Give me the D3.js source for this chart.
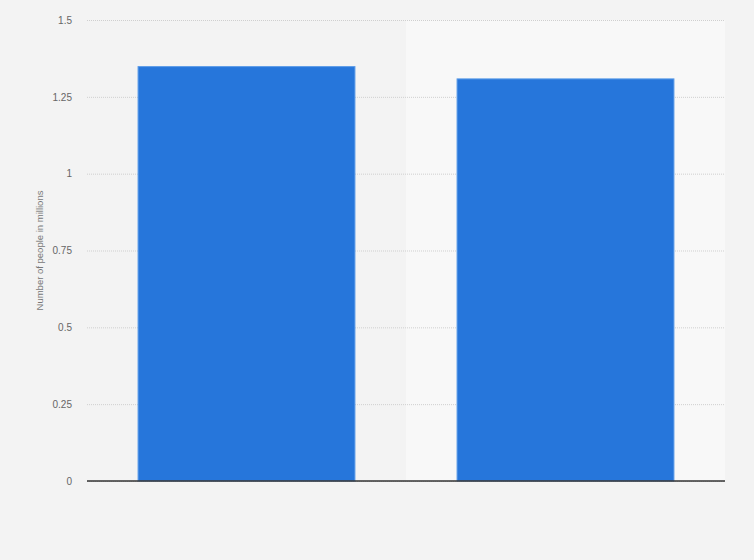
<!DOCTYPE html>
<html>
<head>
<meta charset="utf-8">
<script src="https://cdn.jsdelivr.net/npm/d3@7"></script>
<style>
  body { margin: 0; background: #f3f3f3; }
  svg { display: block; font-family: "Liberation Sans", Arial, sans-serif; }
</style>
</head>
<body>
<div id="chart"></div>
<script>
width = 754;
height = 560;
chart_margins = {left: 87, right: 29, top: 20, bottom: 79};

// data
categories = ["A", "B"];
values = [1.35, 1.31];
y_ticks = [0, 0.25, 0.5, 0.75, 1, 1.25, 1.5];
y_label = "Number of people in millions";

var xScale = d3.scaleBand().domain(categories)
    .range([chart_margins.left, width - chart_margins.right])
    .paddingInner(0.317).paddingOuter(0.1585);
var yScale = d3.scaleLinear().domain([0, 1.5])
    .range([height - chart_margins.bottom, chart_margins.top]);

var plot = d3.select("#chart").append("svg")
    .attr("width", width)
    .attr("height", height);

plot.append("rect")
    .attr("width", width).attr("height", height)
    .attr("fill", "#f3f3f3");

// alternating column bands
plot.selectAll("rect.band")
    .data(categories)
    .enter()
    .append("rect")
    .attr("class", "band")
    .attr("x", d => xScale(d) - xScale.step() * xScale.paddingOuter())
    .attr("y", yScale(1.5))
    .attr("width", xScale.step())
    .attr("height", yScale(0) - yScale(1.5))
    .attr("fill", (d, i) => i % 2 ? "#f8f8f8" : "#f3f3f3");

// gridlines + tick labels
var yAxis = d3.axisLeft(yScale)
    .tickValues(y_ticks)
    .tickSize(-(width - chart_margins.left - chart_margins.right))
    .tickFormat(d => d3.format("")(d));

var gy = plot.append("g")
    .attr("transform", "translate(" + chart_margins.left + ",0)")
    .call(yAxis);
gy.select(".domain").remove();
gy.selectAll("line")
    .attr("stroke", "#cfcfcf")
    .attr("stroke-dasharray", "1,1");
gy.selectAll("text")
    .attr("x", -15)
    .attr("fill", "#666")
    .attr("font-size", 10);

plot.selectAll("rect.bar")
    .data(values)
    .enter()
    .append("rect")
    .attr("class", "bar")
    .attr("x", (d, i) => xScale(categories[i]) + 0.5)
    .attr("y", d => yScale(d) + 0.5)
    .attr("width", xScale.bandwidth() - 1)
    .attr("height", d => yScale(0) - yScale(d) - 0.5)
    .attr("fill", "#2676db")
    .attr("stroke", "#5b9be8")
    .attr("stroke-width", 1);

// baseline
plot.append("line")
    .attr("x1", chart_margins.left)
    .attr("x2", width - chart_margins.right)
    .attr("y1", yScale(0))
    .attr("y2", yScale(0))
    .attr("stroke", "#333")
    .attr("stroke-width", 1.3);

plot.append("text")
    .attr("transform", "translate(43," + ((yScale(0) + yScale(1.5)) / 2) + ") rotate(-90)")
    .attr("text-anchor", "middle")
    .attr("fill", "#777")
    .attr("font-size", 9.5)
    .text(y_label);
</script>
</body>
</html>
